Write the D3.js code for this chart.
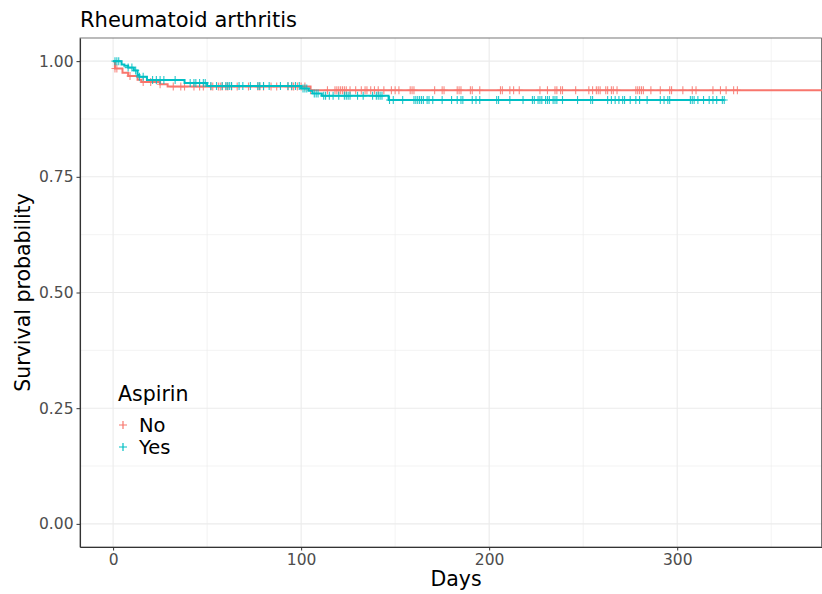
<!DOCTYPE html>
<html>
<head>
<meta charset="utf-8">
<script src="https://cdn.jsdelivr.net/npm/d3@7"></script>
<style>
  body { margin: 0; background: #fff; }
  text { font-family: "DejaVu Sans", sans-serif; }
</style>
</head>
<body>
<svg id="chart" width="822" height="594"></svg>
<script>
// KM step points (time in days, survival)
let noTime = [0, 1, 5, 8, 13, 15, 25, 29, 105];
let noSurv = [1, 0.984, 0.975, 0.968, 0.960, 0.955, 0.950, 0.945, 0.937];
let yesTime = [0, 4.5, 6, 8, 11, 13, 14, 18, 38, 50, 100, 104, 106, 111, 146.5];
let yesSurv = [1, 0.993, 0.990, 0.986, 0.980, 0.970, 0.966, 0.959, 0.953, 0.946, 0.941, 0.936, 0.930, 0.925, 0.916];

// censored times
let noCens = [1, 2, 9, 16, 20, 25, 32, 36, 38, 43, 46, 48, 52, 53, 56, 57, 58, 60, 61, 63, 66, 72, 77, 78, 80, 84, 87, 93, 95, 96, 98, 100,
  102, 105, 114, 118, 119, 120, 121, 122, 123, 124, 126, 129, 132, 134, 135, 137, 139, 141, 144, 148, 150, 152, 158, 159, 160,
  171, 175, 176, 183, 184, 185, 190, 191, 195, 206, 207, 211, 213, 216, 227, 231, 235, 236, 238, 239, 246, 253, 255, 257, 258,
  259, 262, 263, 265, 266, 268, 278, 279, 280, 281, 282, 286, 291, 296, 297, 303, 308, 310, 319, 323, 326, 330, 332];
let yesCens = [1, 2, 3, 8, 10, 12, 14, 16, 21, 23, 25, 27, 33, 41, 43, 44, 46, 48, 49, 52, 55, 58, 60, 61, 62, 63, 67, 69, 73, 77, 78,
  80, 83, 89, 93, 95, 97, 99, 101, 102, 103, 107, 108, 109, 112, 113, 115, 117, 120, 123, 124, 125, 126, 130, 133, 138, 140, 141,
  142, 143, 147, 149, 154, 160, 161, 162, 163, 164, 165, 167, 168, 170, 175, 180, 183, 185, 186, 191, 193, 195, 204, 205, 211,
  218, 223, 224, 226, 227, 228, 230, 231, 232, 234, 235, 236, 239, 247, 254, 255, 263, 265, 267, 269, 271, 272, 275, 278, 280,
  284, 291, 293, 295, 296, 307, 308, 309, 311, 314, 317, 319, 321, 324, 325];

let groups = ["No", "Yes"];
let colors = ["#F8766D", "#00BFC4"];
let xTicks = [0, 100, 200, 300];
let yTicks = [0, 0.25, 0.5, 0.75, 1];

let series = [
  {name: "No", time: noTime, surv: noSurv, cens: noCens, end: 377},
  {name: "Yes", time: yesTime, surv: yesSurv, cens: yesCens, end: 325}
];

let margin = {left: 80, right: 0, top: 38, bottom: 47};
let width = 822, height = 594;

let svg = d3.select("#chart");

let x = d3.scaleLinear().domain([-17.6, 377]).range([margin.left, width - margin.right]);
let y = d3.scaleLinear().domain([-0.05, 1.05]).range([height - margin.bottom, margin.top]);

// gridlines
let g = svg.append("g");
let minorX = [50, 150, 250, 350];
let minorY = [0.125, 0.375, 0.625, 0.875];
g.selectAll(".mx").data(minorX).join("line")
  .attr("x1", d => x(d)).attr("x2", d => x(d))
  .attr("y1", margin.top).attr("y2", height - margin.bottom)
  .attr("stroke", "#ebebeb").attr("stroke-width", 0.6);
g.selectAll(".my").data(minorY).join("line")
  .attr("x1", margin.left).attr("x2", width)
  .attr("y1", d => y(d)).attr("y2", d => y(d))
  .attr("stroke", "#ebebeb").attr("stroke-width", 0.6);
g.selectAll(".gx").data(xTicks).join("line")
  .attr("x1", d => x(d)).attr("x2", d => x(d))
  .attr("y1", margin.top).attr("y2", height - margin.bottom)
  .attr("stroke", "#ebebeb").attr("stroke-width", 1.1);
g.selectAll(".gy").data(yTicks).join("line")
  .attr("x1", margin.left).attr("x2", width)
  .attr("y1", d => y(d)).attr("y2", d => y(d))
  .attr("stroke", "#ebebeb").attr("stroke-width", 1.1);

// panel border
svg.append("rect")
  .attr("x", margin.left).attr("y", margin.top)
  .attr("width", width - margin.left - 0.5).attr("height", height - margin.bottom - margin.top)
  .attr("fill", "none").attr("stroke", "#555").attr("stroke-width", 0.8);

// curves
svg.append("clipPath").attr("id", "clip").append("rect")
  .attr("x", margin.left).attr("y", margin.top)
  .attr("width", width - margin.left).attr("height", height - margin.bottom - margin.top);

let plot = svg.append("g").attr("clip-path", "url(#clip)");

function survAt(s, t) {
  let v = 1;
  for (let i = 0; i < s.time.length; i++) if (s.time[i] <= t) v = s.surv[i];
  return v;
}

let line = d3.line().x(d => x(d[0])).y(d => y(d[1])).curve(d3.curveStepAfter);

series.forEach(function (s, i) {
  let pts = s.time.map((t, j) => [t, s.surv[j]]);
  pts.push([s.end, s.surv[s.surv.length - 1]]);
  plot.append("path").datum(pts).attr("d", line)
    .attr("fill", "none").attr("stroke", colors[i]).attr("stroke-width", 2);

  plot.append("g").selectAll("path").data(s.cens).join("path")
    .attr("d", d => {
      let cx = x(d), cy = y(survAt(s, d));
      return `M${cx - 3.5},${cy}H${cx + 3.5}M${cx},${cy - 4}V${cy + 4}`;
    })
    .attr("stroke", colors[i]).attr("stroke-width", 1.1).attr("opacity", 0.85);
});

// axes
let xAxis = svg.append("g").attr("transform", `translate(0,${height - margin.bottom})`)
  .call(d3.axisBottom(x).tickValues(xTicks).tickSize(3.5).tickSizeOuter(0).tickPadding(3));
let yAxis = svg.append("g").attr("transform", `translate(${margin.left},0)`)
  .call(d3.axisLeft(y).tickValues(yTicks).tickFormat(d3.format(".2f")).tickSize(3.5).tickSizeOuter(0).tickPadding(3));
[xAxis, yAxis].forEach(a => {
  a.select(".domain").attr("stroke", "#333").attr("stroke-width", 1.1);
  a.selectAll(".tick line").attr("stroke", "#333");
  a.selectAll(".tick text").attr("fill", "#4d4d4d").style("font-size", "15.5px")
    .style("font-family", "DejaVu Sans, sans-serif");
});

// labels
svg.append("text").attr("x", 80).attr("y", 27).text("Rheumatoid arthritis")
  .style("font-size", "21px").attr("fill", "#000");
svg.append("text").attr("x", 456).attr("y", 586).attr("text-anchor", "middle").text("Days")
  .style("font-size", "20.5px");
svg.append("text").attr("transform", `translate(30,${y(0.5)}) rotate(-90)`).attr("text-anchor", "middle")
  .text("Survival probability").style("font-size", "20.5px");

// legend
let lg = svg.append("g").attr("transform", "translate(118,0)");
lg.append("text").attr("x", 0).attr("y", 401).text("Aspirin").style("font-size", "20.5px");
groups.forEach(function (name, i) {
  let cy = 425 + i * 22;
  lg.append("path").attr("d", `M${1},${cy}H${9}M${5},${cy - 4}V${cy + 4}`)
    .attr("stroke", colors[i]).attr("stroke-width", 1.2);
  lg.append("text").attr("x", 21).attr("y", cy + 7).text(name).style("font-size", "19.5px");
});
</script>
</body>
</html>
